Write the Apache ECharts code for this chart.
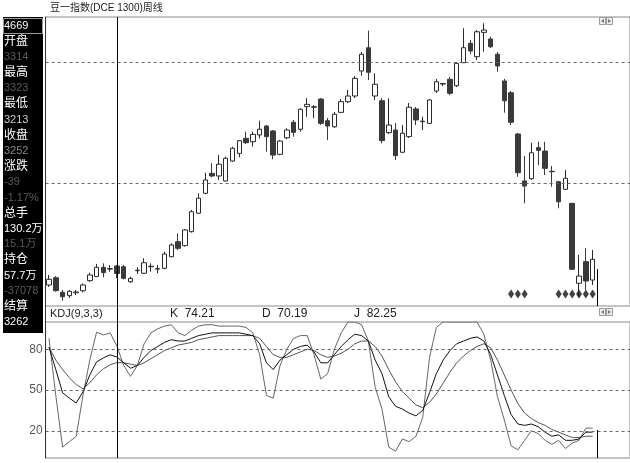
<!DOCTYPE html>
<html><head><meta charset="utf-8">
<script src="https://cdn.jsdelivr.net/npm/echarts@6/dist/echarts.min.js"></script>
<style>html,body{margin:0;padding:0;background:#fff}#c{width:630px;height:463px}</style>
</head><body><div id="c"></div>
<script>
// ---- data (weekly bars) ----
const weekOpen  = [3157,3217,3097,3069,3093,3110,3193,3226,3303,3289,3314,3308,3184,3275,3254,3308,3289,3295,3391,3515,
  3482,3598,3750,3915,4080,4058,4017,4182,4245,4369,4341,4397,4471,4430,4237,4374,4502,4444,4631,4626,
  4694,4515,4465,4584,4672,4719,4926,5118,4719,4680,4416,4438,4254,4383,4612,4507,4493,4760,4818,4857,
  4804,4994,5155,5044,5245,5190,5064,4843,4746,4405,4017,4036,4292,4264,4097,4011,3948,3832,3171,3350,3198];
const weekClose = [3204,3110,3060,3105,3099,3157,3240,3303,3259,3292,3252,3212,3212,3279,3341,3312,3292,3413,3488,3460,
  3612,3763,3874,4025,4058,4155,4204,4287,4350,4333,4402,4444,4383,4231,4347,4438,4419,4609,4650,4630,
  4493,4471,4568,4672,4719,4865,5064,4915,4816,4350,4479,4226,4411,4626,4521,4511,4686,4837,4822,4741,
  4989,5118,5091,5250,5264,5126,4967,4680,4502,4085,3975,4250,4270,4121,4093,3845,4039,3287,3231,3190,3369];
const weekLow   = [3141,3102,3027,3050,3074,3097,3184,3223,3221,3267,3213,3204,3176,3248,3248,3267,3254,3287,3386,3446,
  3474,3590,3744,3907,4047,4025,4011,4176,4212,4322,4300,4369,4259,4196,4229,4361,4383,4424,4548,4535,
  4479,4355,4455,4578,4661,4702,4887,4851,4686,4328,4405,4190,4248,4372,4479,4438,4488,4744,4802,4727,
  4793,4992,5066,5017,5085,5116,4920,4581,4479,4052,3832,4025,4149,4066,3969,3791,3942,3281,3060,3116,3157];
const weekHigh  = [3240,3231,3116,3116,3116,3171,3259,3331,3336,3322,3323,3322,3226,3303,3378,3336,3322,3432,3502,3584,
  3620,3777,3915,4085,4163,4231,4217,4300,4355,4424,4424,4515,4479,4438,4355,4452,4521,4617,4702,4645,
  4702,4537,4587,4694,4769,4884,5083,5259,4907,4702,4700,4496,4479,4661,4628,4548,4694,4860,4826,4876,
  5000,5279,5182,5264,5320,5209,5083,4860,4760,4413,4223,4333,4341,4341,4140,4017,4107,3835,3405,3460,3446];
const kValues = [81.5,65,48,44,40.5,48.6,61,70.7,73.6,75.9,74.21,70,66,68,74,79,82,85,87,86,
  86,88,90,91,92,92,92,92,92,91,90,84,70,65,72,76,80,82,83,78,
  70,70,76,82,87,91,90,86,72,62,45,38,36,33,31,35,48,62,72,79,
  84,86,88,89,86,76,61,46,32,25,24,25,23,19,16,17,13,13,14,19,19];
const dValues = [81.5,72,65,59,54,50.9,55.3,61.1,65.6,68.5,70.19,70,69,68,70,73,76,79,81,83,
  84,85,87,88,89,90,90,90,90,90,90,88,82,76,74,74,76,78,80,79,
  76,74,75,77,80,84,86,86,82,75,65,56,49,44,39,37,41,47,55,63,
  70,75,79,82,84,81,72,61,50,40,33,29,26,24,21,19,17,15,15,16,16];
const jValues = [88,46,8,12,16,46,72,92.5,90.5,92,82.25,68,60,68,84,92,95,97,98,92,
  90,94,97,98,98,97,97,97,97,96,92,76,46,44,68,80,88,90,90,76,
  58,62,80,92,100,100,98,86,52,36,8,5,14,12,16,30,74,96,100,100,
  100,100,100,100,91,72,45,28,9,6,13,20,18,13,10,13,7,11,13,22,22];
const signalWeeks = [68,69,70,75,76,77,78,79,80];
const signalLevel = 3083;
const cursorWeek = 10;
const priceGuides = [4000,5000];
const kdjGuides = [20,50,80];
const slotCount = 86;
const categories = Array.from({length: slotCount}, (_, i) => 'W' + (i + 1));

const candles = weekOpen.map((o, i) => [o, weekClose[i], weekLow[i], weekHigh[i]]);

const FONT = '"Liberation Sans","Noto Sans CJK SC",sans-serif';
const chart = echarts.init(document.getElementById('c'), null, {renderer: 'canvas'});

const gridLeft = 45.6, gridW = 585.7;
chart.setOption({
  animation: false,
  backgroundColor: '#fff',
  grid: [
    {left: gridLeft, top: 17, width: gridW, height: 289, show: true, borderColor: '#8a8a8a', borderWidth: 1},
    {left: gridLeft, top: 322, width: gridW, height: 136, show: true, borderColor: '#8a8a8a', borderWidth: 1}
  ],
  xAxis: [
    {type: 'category', gridIndex: 0, data: categories, boundaryGap: true,
     axisLine: {show: false}, axisTick: {show: false}, axisLabel: {show: false}, splitLine: {show: false}},
    {type: 'category', gridIndex: 1, data: categories, boundaryGap: true,
     axisLine: {show: false}, axisTick: {show: false}, axisLabel: {show: false}, splitLine: {show: false}}
  ],
  yAxis: [
    {type: 'value', gridIndex: 0, min: 2983.5, max: 5371.9, scale: true,
     axisLine: {show: true, lineStyle: {color: '#333'}}, axisTick: {show: false},
     axisLabel: {show: false}, splitLine: {show: false}},
    {type: 'value', gridIndex: 1, min: 0, max: 100,
     axisLine: {show: true, lineStyle: {color: '#333'}}, axisTick: {show: false},
     axisLabel: {show: true, customValues: kdjGuides, color: '#555', fontSize: 12, fontFamily: FONT, margin: 3},
     splitLine: {show: false}}
  ],
  series: [
    {type: 'candlestick', xAxisIndex: 0, yAxisIndex: 0, data: candles, barWidth: 5,
     itemStyle: {color: '#ffffff', color0: '#3a3a3a', borderColor: '#2a2a2a', borderColor0: '#3a3a3a', borderWidth: 1},
     markLine: {silent: true, symbol: 'none', label: {show: false},
       lineStyle: {type: [3, 3], color: '#666', width: 1},
       data: priceGuides.map(v => ({yAxis: v}))}},
    {type: 'scatter', xAxisIndex: 0, yAxisIndex: 0, symbol: 'diamond', symbolSize: [6, 9],
     itemStyle: {color: '#111'}, data: signalWeeks.map(i => [i, signalLevel]), silent: true},
    {type: 'line', xAxisIndex: 1, yAxisIndex: 1, data: dValues, symbol: 'none',
     lineStyle: {color: '#555', width: 1}, silent: true,
     markLine: {silent: true, symbol: 'none', label: {show: false},
       lineStyle: {type: [3, 3], color: '#666', width: 1},
       data: kdjGuides.map(v => ({yAxis: v}))}},
    {type: 'line', xAxisIndex: 1, yAxisIndex: 1, data: jValues, symbol: 'none',
     lineStyle: {color: '#666', width: 1}, silent: true},
    {type: 'line', xAxisIndex: 1, yAxisIndex: 1, data: kValues, symbol: 'none',
     lineStyle: {color: '#111', width: 1}, silent: true}
  ]
});

// ---- decorations (cursor, side panel, headers) ----
const cx = Math.round(chart.convertToPixel({xAxisIndex: 0}, cursorWeek)) + 0.5;
const lastX = Math.round(chart.convertToPixel({xAxisIndex: 0}, weekOpen.length - 1)) + 4.5;

const sideRows = [
  ['4669', '#ffffff'], ['开盘', '#ffffff'], ['3314', '#5a5a5a'], ['最高', '#ffffff'], ['3323', '#5a5a5a'],
  ['最低', '#ffffff'], ['3213', '#cfcfcf'], ['收盘', '#ffffff'], ['3252', '#8a8a8a'], ['涨跌', '#ffffff'],
  ['-39', '#5a5a5a'], ['-1.17%', '#5a5a5a'], ['总手', '#ffffff'], ['130.2万', '#ffffff'], ['15.1万', '#5a5a5a'],
  ['持仓', '#ffffff'], ['57.7万', '#ffffff'], ['-37078', '#5a5a5a'], ['结算', '#ffffff'], ['3262', '#ffffff']
];
const g = [];
g.push({type: 'rect', shape: {x: 3, y: 17, width: 40, height: 316}, style: {fill: '#000'}, z: 10});
g.push({type: 'rect', shape: {x: 3.5, y: 18.5, width: 39, height: 15}, style: {fill: 'none', stroke: '#9a9a9a', lineWidth: 1}, z: 11});
sideRows.forEach((r, i) => {
  const isCJK = /[\u4e00-\u9fff]/.test(r[0]) && r[0].length === 2;
  g.push({type: 'text', x: 4, y: 26 + i * 15.6, z: 12,
    style: {text: r[0], fill: r[1], font: (isCJK ? '12px ' : '11px ') + FONT, verticalAlign: 'middle'}});
});
// title
g.push({type: 'text', x: 50, y: 8, z: 12, style: {text: '豆一指数(DCE 1300)周线', fill: '#222', font: '10px ' + FONT, verticalAlign: 'middle'}});
// KDJ header
g.push({type: 'text', x: 50, y: 314, z: 12, style: {text: 'KDJ(9,3,3)', fill: '#222', font: '11px ' + FONT, verticalAlign: 'middle'}});
g.push({type: 'text', x: 170, y: 314, z: 12, style: {text: 'K  74.21', fill: '#222', font: '12px ' + FONT, verticalAlign: 'middle'}});
g.push({type: 'text', x: 262, y: 314, z: 12, style: {text: 'D  70.19', fill: '#222', font: '12px ' + FONT, verticalAlign: 'middle'}});
g.push({type: 'text', x: 354, y: 314, z: 12, style: {text: 'J  82.25', fill: '#222', font: '12px ' + FONT, verticalAlign: 'middle'}});
// scroll buttons
[[17.5], [308.5]].forEach(([y]) => {
  g.push({type: 'rect', shape: {x: 599.5, y: y, width: 6, height: 7}, style: {fill: '#eee', stroke: '#999'}, z: 12});
  g.push({type: 'rect', shape: {x: 606.5, y: y, width: 6, height: 7}, style: {fill: '#eee', stroke: '#999'}, z: 12});
  g.push({type: 'polygon', shape: {points: [[604, y + 1.5], [604, y + 5.5], [601, y + 3.5]]}, style: {fill: '#777'}, z: 13});
  g.push({type: 'polygon', shape: {points: [[608, y + 1.5], [608, y + 5.5], [611, y + 3.5]]}, style: {fill: '#777'}, z: 13});
});
// cursor line
g.push({type: 'line', shape: {x1: cx, y1: 17, x2: cx, y2: 458}, style: {stroke: '#000', lineWidth: 1}, z: 9});
// right-end marker line
g.push({type: 'line', shape: {x1: lastX, y1: 269, x2: lastX, y2: 306}, style: {stroke: '#000', lineWidth: 1}, z: 9});
g.push({type: 'line', shape: {x1: lastX, y1: 430, x2: lastX, y2: 458}, style: {stroke: '#000', lineWidth: 1}, z: 9});
// header row left line
g.push({type: 'line', shape: {x1: 45.5, y1: 306, x2: 45.5, y2: 322}, style: {stroke: '#333', lineWidth: 1}, z: 9});
chart.setOption({graphic: g});
</script></body></html>
